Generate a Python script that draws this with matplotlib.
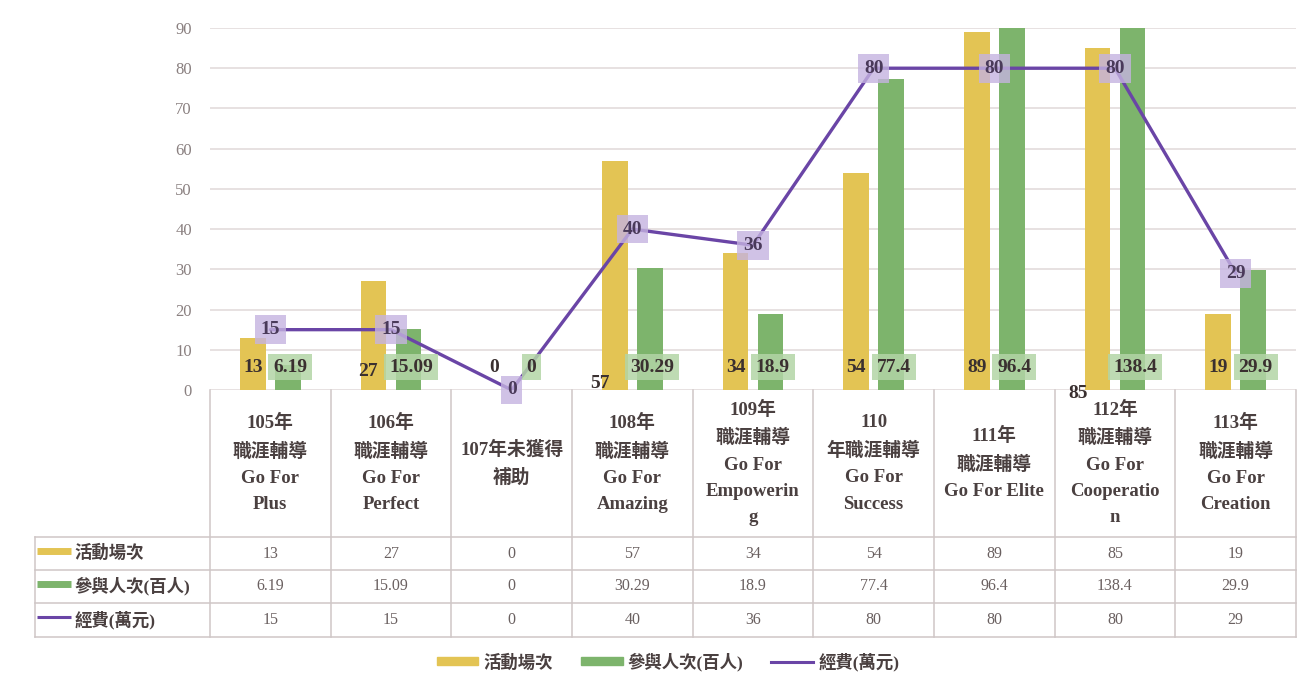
import numpy as np
import matplotlib
matplotlib.use("Agg")
from matplotlib import pyplot as plt
from matplotlib.patches import Patch
from matplotlib.lines import Line2D

plt.rcParams['font.family'] = ['Liberation Serif', 'Noto Sans CJK TC', 'DejaVu Sans']

categories = ["105年\n職涯輔導\nGo For\nPlus", "106年\n職涯輔導\nGo For\nPerfect", "107年未獲得\n補助",
              "108年\n職涯輔導\nGo For\nAmazing", "109年\n職涯輔導\nGo For\nEmpowerin\ng",
              "110\n年職涯輔導\nGo For\nSuccess", "111年\n職涯輔導\nGo For Elite",
              "112年\n職涯輔導\nGo For\nCooperatio\nn", "113年\n職涯輔導\nGo For\nCreation"]
activities = [13, 27, 0, 57, 34, 54, 89, 85, 19]
participants = [6.19, 15.09, 0, 30.29, 18.9, 77.4, 96.4, 138.4, 29.9]
funding = [15, 15, 0, 40, 36, 80, 80, 80, 29]
series_names = ["活動場次", "參與人次(百人)", "經費(萬元)"]
table_text = [["13", "27", "0", "57", "34", "54", "89", "85", "19"],
              ["6.19", "15.09", "0", "30.29", "18.9", "77.4", "96.4", "138.4", "29.9"],
              ["15", "15", "0", "40", "36", "80", "80", "80", "29"]]

# label placement tweaks for the yellow bar labels (x shift, y in data units)
act_label_pos = [(0, 5.7), (-0.05, 4.5), (0, 5.7), (-0.12, 1.7), (0, 5.7), (0, 5.7), (0, 5.7), (-0.16, -0.8), (0, 5.7)]

YELLOW = "#e3c454"
GREEN = "#7db46c"
PURPLE = "#6a45a6"
GRID = "#e3dcdc"
TXT = "#3a3030"

fig = plt.figure(figsize=(13.01, 6.77), dpi=100)
fig.patch.set_facecolor("white")

W, H = 1301, 677
ax = fig.add_axes([210 / W, 1 - 390 / H, (1296 - 210) / W, (390 - 28) / H])
x = np.arange(len(activities))
bw = 0.215
off = 0.145
ax.bar(x - off, activities, bw, color=YELLOW, zorder=2)
ax.bar(x + off, participants, bw, color=GREEN, zorder=2)
ax.plot(x, funding, color=PURPLE, lw=2.4, zorder=3, solid_capstyle='round')

ax.set_xlim(-0.5, len(x) - 0.5)
ax.set_ylim(0, 90)
ax.set_yticks(np.arange(0, 91, 10))
ax.yaxis.grid(True, color=GRID, lw=1.2, zorder=0)
ax.set_axisbelow(True)
for s in ax.spines.values():
    s.set_visible(False)
ax.set_xticks([])
ax.tick_params(axis='y', length=0, pad=13, labelsize=12, labelcolor="#8a8080")

# bar labels
for i, v in enumerate(activities):
    dx, yy = act_label_pos[i]
    ax.text(i - off + dx, yy, str(v), ha='center', va='center', fontsize=14, fontweight='bold',
            color=TXT, zorder=5, clip_on=False)
for i, v in enumerate(participants):
    ax.text(i + off + 0.02, 5.7, table_text[1][i], ha='center', va='center', fontsize=14, fontweight='bold',
            color=TXT, zorder=5,
            bbox=dict(boxstyle='square,pad=0.25', fc="#b3d5a6", ec='none', alpha=0.85))
for i, v in enumerate(funding):
    ax.text(i, v, str(v), ha='center', va='center', fontsize=14, fontweight='bold', color="#4a3a5a",
            zorder=5, clip_on=False,
            bbox=dict(boxstyle='square,pad=0.3', fc="#c5b3e0", ec='none', alpha=0.8))

# data table
rows = [390, 537, 570, 603, 637]
tax = fig.add_axes([35 / W, 1 - rows[-1] / H, (1296 - 35) / W, (rows[-1] - rows[0]) / H])
lw_cols = 175 / ((1296 - 210) / 9)
tax.set_xlim(-0.5 - lw_cols, len(x) - 0.5)
tax.set_ylim(rows[-1], rows[0])
tax.axis('off')
LINE = "#cfc6c6"
for r in rows[1:]:
    tax.plot([-0.5 - lw_cols, len(x) - 0.5], [r, r], color=LINE, lw=1.1, clip_on=False)
tax.plot([-0.5 - lw_cols, -0.5 - lw_cols], [rows[1], rows[-1]], color=LINE, lw=1.1, clip_on=False)
for k in range(len(x) + 1):
    tax.plot([k - 0.5, k - 0.5], [rows[0], rows[-1]], color=LINE, lw=1.1, clip_on=False)
for i, c in enumerate(categories):
    tax.text(i, (rows[0] + rows[1]) / 2, c, ha='center', va='center', fontsize=13.5, fontweight='bold',
             color="#4a4040", linespacing=1.72)
for r, row in enumerate(table_text):
    yc = (rows[r + 1] + rows[r + 2]) / 2
    for i, t in enumerate(row):
        tax.text(i, yc, t, ha='center', va='center', fontsize=11.5, color="#6a6060")
    tax.text(-0.5 - lw_cols + 0.33, yc, series_names[r], ha='left', va='center', fontsize=12.5,
             fontweight='bold', color="#4a4040")
swatch = [(YELLOW, 5), (GREEN, 5), (PURPLE, 2.2)]
for r, (col, lwid) in enumerate(swatch):
    yc = (rows[r + 1] + rows[r + 2]) / 2 - 3
    tax.plot([-0.5 - lw_cols + 0.02, -0.5 - lw_cols + 0.3], [yc, yc], color=col, lw=lwid, clip_on=False,
             solid_capstyle='butt')

handles = [Patch(color=YELLOW, label=series_names[0]), Patch(color=GREEN, label=series_names[1]),
           Line2D([0], [0], color=PURPLE, lw=2.2, label=series_names[2])]
leg = fig.legend(handles=handles, loc='center', bbox_to_anchor=(668 / W, 1 - 662 / H), ncol=3, frameon=False,
                 fontsize=12.5, handlelength=2.4, handleheight=0.35, columnspacing=1.6, handletextpad=0.3)
for t in leg.get_texts():
    t.set_color("#4a4040")
    t.set_fontweight('bold')

fig.savefig("out.png", dpi=100, facecolor="white")
